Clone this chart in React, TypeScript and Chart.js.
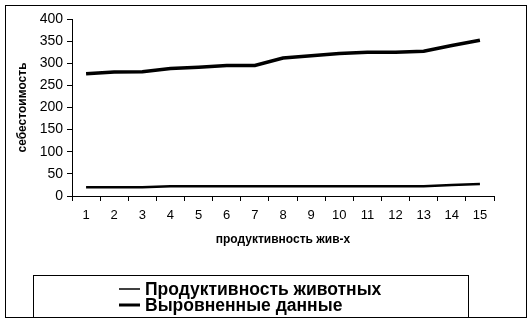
import React, { useEffect, useRef } from "react";
import { Chart, registerables } from "chart.js";

Chart.register(...registerables);

const categories = ["1", "2", "3", "4", "5", "6", "7", "8", "9", "10", "11", "12", "13", "14", "15"];
const productivity = [20, 20, 20, 22, 22, 22, 22, 22, 22, 22, 22, 22, 22, 25, 27];
const smoothed = [276, 280, 281, 288, 291, 295, 295, 312, 317, 322, 325, 325, 327, 340, 352];
const seriesNames = ["Продуктивность животных", "Выровненные данные"];
const yTitle = "себестоимость";
const xTitle = "продуктивность жив-х";

const FONT = "'Liberation Sans', Arial, sans-serif";

const framePlugin = {
  id: "frame",
  beforeDraw(chart: any) {
    const ctx = chart.ctx;
    ctx.save();
    ctx.fillStyle = "#ffffff";
    ctx.fillRect(0, 0, chart.width, chart.height);
    ctx.restore();
  },
  afterDraw(chart: any) {
    const ctx = chart.ctx;
    ctx.save();
    ctx.strokeStyle = "#000000";
    ctx.lineWidth = 1;
    ctx.strokeRect(5.5, 5.5, 521, 312);
    // legend box
    ctx.strokeRect(33.5, 275.5, 435, 42);
    const rows = [
      { y: 289, lw: 1.5 },
      { y: 305, lw: 3 },
    ];
    ctx.fillStyle = "#000000";
    ctx.font = `bold 17.5px ${FONT}`;
    ctx.textBaseline = "middle";
    ctx.textAlign = "left";
    rows.forEach((r, i) => {
      ctx.beginPath();
      ctx.lineWidth = r.lw;
      ctx.moveTo(119, r.y);
      ctx.lineTo(140, r.y);
      ctx.stroke();
      ctx.fillText(seriesNames[i], 145, r.y + 1);
    });
    ctx.restore();
  },
};

export default function App() {
  const ref = useRef<HTMLCanvasElement | null>(null);
  useEffect(() => {
    if (!ref.current) return;
    const chart = new Chart(ref.current, {
      type: "line",
      data: {
        labels: categories,
        datasets: [
          {
            label: seriesNames[0],
            data: productivity,
            borderColor: "#000000",
            borderWidth: 2.5,
            pointRadius: 0,
            tension: 0,
          },
          {
            label: seriesNames[1],
            data: smoothed,
            borderColor: "#000000",
            borderWidth: 3.5,
            pointRadius: 0,
            tension: 0,
          },
        ],
      },
      options: {
        responsive: false,
        animation: false,
        devicePixelRatio: 1,
        layout: { padding: { left: 0, top: 19, right: 38, bottom: 75 } },
        plugins: {
          legend: { display: false },
          tooltip: { enabled: false },
        },
        scales: {
          x: {
            type: "category",
            offset: true,
            grid: {
              offset: true,
              drawOnChartArea: false,
              drawTicks: true,
              tickLength: 5,
              color: "#000000",
            },
            border: { color: "#000000", width: 1 },
            ticks: {
              color: "#000000",
              font: { family: FONT, size: 13 },
              padding: 7,
              maxRotation: 0,
              autoSkip: false,
            },
            title: {
              display: true,
              text: xTitle,
              color: "#000000",
              font: { family: FONT, size: 12, weight: "bold" },
              padding: { top: 0, bottom: 1 },
            },
            afterFit: (s: any) => {
              s.height = 52;
            },
          },
          y: {
            min: 0,
            max: 400,
            ticks: {
              stepSize: 50,
              color: "#000000",
              font: { family: FONT, size: 14 },
              padding: 4,
            },
            grid: {
              drawOnChartArea: false,
              drawTicks: true,
              tickLength: 5,
              color: "#000000",
            },
            border: { color: "#000000", width: 1 },
            title: {
              display: true,
              text: yTitle,
              color: "#000000",
              font: { family: FONT, size: 12, weight: "bold" },
              padding: { top: 15, bottom: 0 },
            },
            afterFit: (s: any) => {
              s.width = 72;
            },
          },
        },
      },
      plugins: [framePlugin],
    });
    return () => chart.destroy();
  }, []);
  return (
    <div style={{ position: "absolute", left: 0, top: 0, width: 532, height: 323 }}>
      <canvas ref={ref} width={532} height={323} style={{ display: "block" }} />
    </div>
  );
}
